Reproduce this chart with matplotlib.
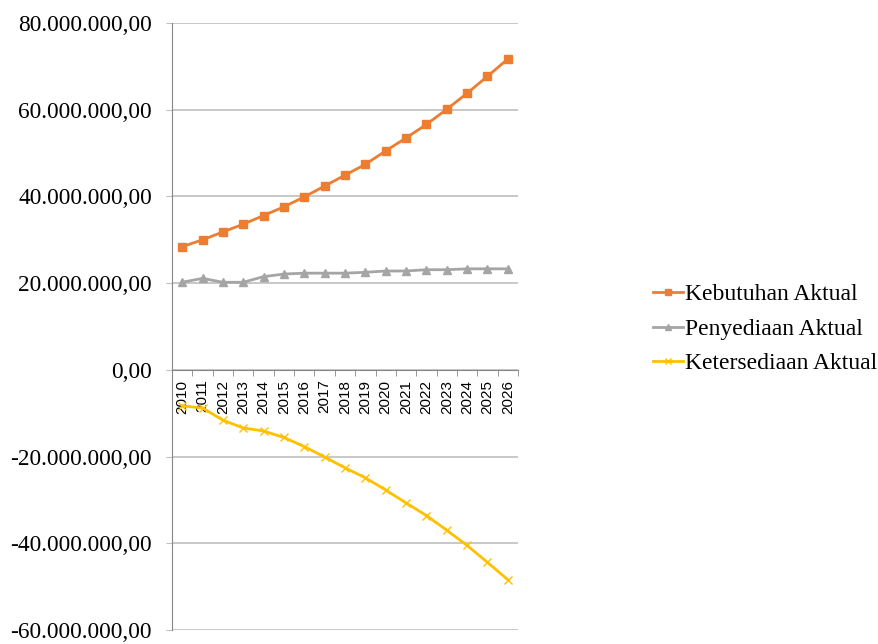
import matplotlib
matplotlib.use("Agg")
import matplotlib.pyplot as plt
from matplotlib.ticker import FuncFormatter, MultipleLocator, FixedLocator

years = [str(y) for y in range(2010, 2027)]
kebutuhan = [28.4, 30.0, 31.8, 33.6, 35.6, 37.6, 39.9, 42.4, 44.9, 47.4, 50.5,
             53.5, 56.6, 60.1, 63.8, 67.7, 71.7]
penyediaan = [20.2, 21.1, 20.2, 20.2, 21.5, 22.1, 22.3, 22.3, 22.3, 22.5, 22.8,
              22.8, 23.1, 23.1, 23.3, 23.3, 23.3]
ketersediaan = [-8.3, -8.8, -11.6, -13.4, -14.1, -15.6, -17.7, -20.1, -22.6,
                -24.9, -27.7, -30.7, -33.6, -37.0, -40.5, -44.4, -48.4]
scale = 1e6

fig = plt.figure(figsize=(8.79, 6.44), dpi=100)
ax = fig.add_axes([172/879, 1-630/644, (518-172)/879, (630-23)/644])

x = list(range(len(years)))
ax.plot(x, [v*scale for v in kebutuhan], color='#ED7D31', lw=2, marker='s',
        ms=6, label='Kebutuhan Aktual', zorder=5)
ax.plot(x, [v*scale for v in penyediaan], color='#A5A5A5', lw=2, marker='^',
        ms=6, label='Penyediaan Aktual', zorder=4)
ax.plot(x, [v*scale for v in ketersediaan], color='#FFC000', lw=2, marker='x',
        ms=6, mew=1, label='Ketersediaan Aktual', zorder=4)

ax.set_xlim(-0.5, len(years)-0.5)
ax.set_ylim(-60e6, 80e6)
ax.yaxis.set_major_locator(MultipleLocator(20e6))

def fmt(v, pos):
    s = f"{abs(v):,.2f}"
    s = s.replace(',', 'X').replace('.', ',').replace('X', '.')
    return ('-' if v < 0 else '') + s
ax.yaxis.set_major_formatter(FuncFormatter(fmt))

ax.grid(axis='y', color='#BFBFBF', lw=1.2, zorder=0)
ax.set_axisbelow(True)
for s in ['top', 'right']:
    ax.spines[s].set_visible(False)
ax.spines['left'].set_color('#868686')
ax.spines['bottom'].set_position(('data', 0))
ax.spines['bottom'].set_color('#868686')

ax.set_xticks(x)
ax.set_xticklabels(years, rotation=90, fontfamily='Liberation Sans', fontsize=11)
ax.xaxis.set_minor_locator(FixedLocator([i - 0.5 for i in range(len(years)+1)]))
ax.tick_params(axis='x', which='major', length=0, pad=7)
ax.tick_params(axis='x', which='minor', length=4, color='#868686', direction='out')
ax.tick_params(axis='y', length=4.5, color='#BFBFBF', pad=10)
for lab in ax.get_yticklabels():
    lab.set_fontfamily('Liberation Serif')
    lab.set_fontsize(16.8)

leg = fig.legend(loc='center left', bbox_to_anchor=(653/879, 1-329/644),
                 frameon=False, prop={'family': 'Liberation Serif', 'size': 17},
                 handlelength=1.25, handletextpad=0.1, labelspacing=0.55,
                 borderpad=0, borderaxespad=0, markerscale=0.8)

fig.savefig('out.png', dpi=100)
